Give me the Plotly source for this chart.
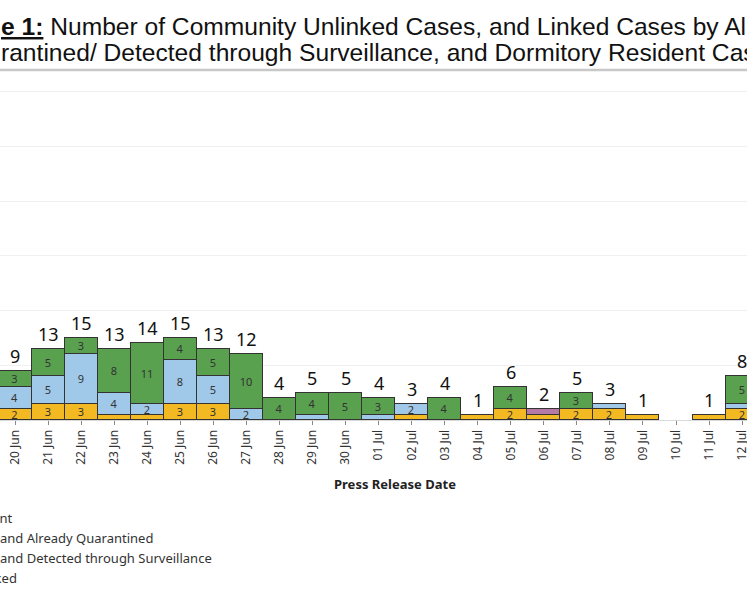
import plotly.graph_objects as go

dates = ["20 Jun", "21 Jun", "22 Jun", "23 Jun", "24 Jun", "25 Jun", "26 Jun", "27 Jun",
         "28 Jun", "29 Jun", "30 Jun", "01 Jul", "02 Jul", "03 Jul", "04 Jul", "05 Jul",
         "06 Jul", "07 Jul", "08 Jul", "09 Jul", "10 Jul", "11 Jul", "12 Jul"]
unlinked = [2, 3, 3, 1, 1, 3, 3, 0, 0, 0, 0, 0, 1, 0, 1, 2, 1, 2, 2, 1, 0, 1, 2]
surveillance = [4, 5, 9, 4, 2, 8, 5, 2, 0, 1, 0, 1, 2, 0, 0, 0, 0, 0, 1, 0, 0, 0, 1]
dormitory = [0, 0, 0, 0, 0, 0, 0, 0, 0, 0, 0, 0, 0, 0, 0, 0, 1, 0, 0, 0, 0, 0, 0]
quarantined = [3, 5, 3, 8, 11, 4, 5, 10, 4, 4, 5, 3, 0, 4, 0, 4, 0, 3, 0, 0, 0, 0, 5]

series = [
    ("Community Cases Unlinked", unlinked, "#F3B922", 4),
    ("Linked Community Case and Detected through Surveillance", surveillance, "#A0C8E8", 3),
    ("Linked Dormitory Resident", dormitory, "#B57BA6", 1),
    ("Linked Community Case and Already Quarantined", quarantined, "#59A14F", 2),
]

totals = [sum(v) for v in zip(unlinked, surveillance, dormitory, quarantined)]

W, H = 747, 598
PLOT_TOP, BASE = 81, 420
PH = BASE - PLOT_TOP


def py(pix):
    return (BASE - pix) / PH


def px(pix):
    return pix / W


fig = go.Figure()
for name, vals, color, rank in series:
    fig.add_trace(go.Bar(
        x=dates,
        y=[v if v else None for v in vals],
        name=name,
        legendrank=rank,
        marker=dict(color=color, line=dict(color="#333333", width=1)),
        text=[str(v) if v >= 2 else "" for v in vals],
        textposition="inside",
        insidetextanchor="middle",
        textangle=0,
        textfont=dict(family="Noto Sans", size=11, color="#333333"),
        hoverinfo="x+y+name",
    ))

title_font = dict(family="Liberation Sans, Arial, sans-serif", size=24.6, color="#111111")
annotations = [
    dict(text="<b><u>Figur</u></b>", x=0, xanchor="right", y=py(27), yanchor="middle"),
    dict(text="<b><u>e 1:</u></b> Number of Community Unlinked Cases, and Linked Cases by Already",
         x=0, xanchor="left", y=py(27), yanchor="middle"),
    dict(text="Qua", x=0, xanchor="right", y=py(52), yanchor="middle"),
    dict(text="rantined/ Detected through Surveillance, and Dormitory Resident Cases",
         x=0, xanchor="left", y=py(52), yanchor="middle"),
]
for a in annotations:
    a.update(xref="paper", yref="paper", showarrow=False, borderpad=0, font=title_font)

# total labels above each stacked bar
for d, t in zip(dates, totals):
    if t:
        annotations.append(dict(
            text=str(t), x=d, y=t, xref="x", yref="y",
            xanchor="center", yanchor="bottom", yshift=2, showarrow=False,
            borderpad=0, font=dict(family="Noto Sans", size=18, color="#111111"),
        ))

annotations.append(dict(
    text="<b>Press Release Date</b>", xref="paper", yref="paper",
    x=px(395), y=py(484), xanchor="center", yanchor="middle", showarrow=False,
    font=dict(family="Noto Sans", size=13, color="#222222"),
))

fig.update_layout(
    width=W, height=H,
    margin=dict(l=0, r=0, t=PLOT_TOP, b=H - BASE, pad=0, autoexpand=False),
    paper_bgcolor="white", plot_bgcolor="white",
    barmode="stack", bargap=0,
    uniformtext=dict(minsize=11, mode="show"),
    showlegend=True,
    legend=dict(
        x=-0.2555, xanchor="left", y=py(503), yanchor="top",
        orientation="v", traceorder="normal",
        font=dict(family="Noto Sans", size=13, color="#333333"),
        bgcolor="rgba(0,0,0,0)",
    ),
    annotations=annotations,
    shapes=[dict(type="line", xref="paper", yref="paper", x0=-0.1, x1=1.1,
                 y0=py(70), y1=py(70), line=dict(color="#c8c8c8", width=2.5))],
    xaxis=dict(
        type="category", range=[-0.454, 22.148],
        tickangle=-90, ticks="outside", ticklen=4, tickcolor="#888888",
        tickfont=dict(family="Noto Sans", size=12, color="#333333"),
        showgrid=False, showline=False, zeroline=False,
    ),
    yaxis=dict(
        range=[0, 62], dtick=10, showticklabels=False,
        showgrid=True, gridcolor="#f0f0f0", gridwidth=1,
        zeroline=True, zerolinecolor="#d9d9d9", zerolinewidth=1,
        showline=False,
    ),
)

fig.write_html("out.html", config={"displayModeBar": False},
               post_script="document.body.style.margin='0';")
